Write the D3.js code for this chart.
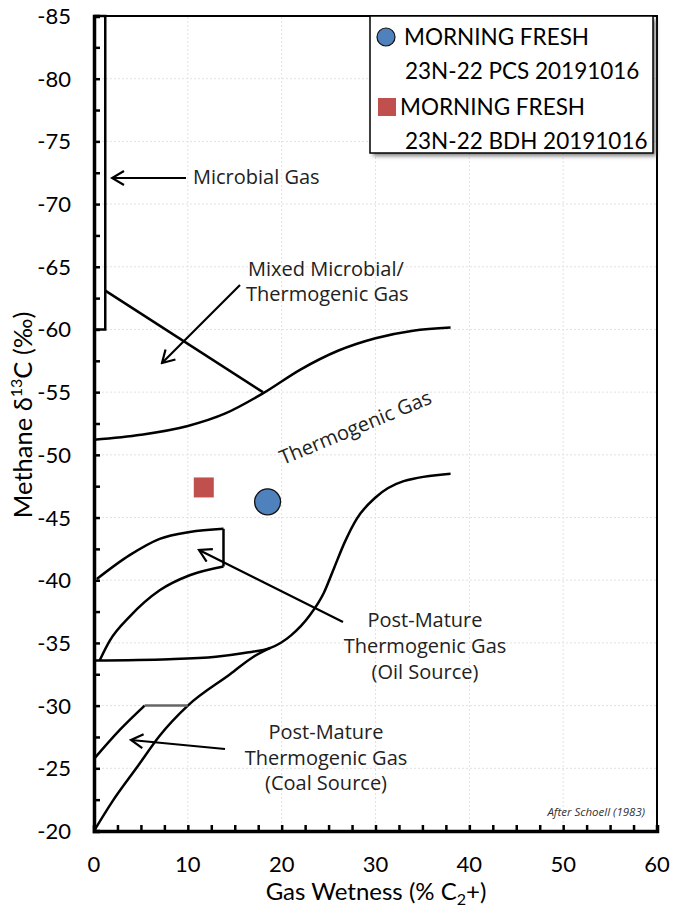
<!DOCTYPE html>
<html>
<head>
<meta charset="utf-8">
<script src="https://cdn.jsdelivr.net/npm/d3@7/dist/d3.min.js"></script>
<style>
  body { margin: 0; background: #fff; }
  svg { font-family: Lato, "Open Sans", sans-serif; }
</style>
</head>
<body>
<svg width="673" height="908"></svg>
<script>
// axis ticks
const xTicks = [0, 10, 20, 30, 40, 50, 60];
const yTicks = [-85, -80, -75, -70, -65, -60, -55, -50, -45, -40, -35, -30, -25, -20];

// Schoell (1983) boundaries, [wetness, d13C]
const microbialBox = [[0, -85], [1.2, -85], [1.2, -60], [0, -60]];
const mixedLine = [[1.2, -63.1], [18, -55]];
const thermoLower = [[0, -51.2], [5, -51.6], [10, -52.3], [14, -53.3], [18, -54.9], [22, -56.8], [26, -58.3], [30, -59.3], [34, -59.9], [38, -60.15]];
const oilUpper = [[0.3, -40.1], [3.8, -42], [7, -43.3], [10.2, -43.85], [13.8, -44.1]];
const oilRight = [[13.8, -44.1], [13.8, -41.1]];
const oilLower = [[0.6, -33.6], [1.7, -35.2], [3.8, -37.1], [7, -39.2], [10.2, -40.4], [13.8, -41.1]];
const oilBase = [[0, -33.6], [8, -33.7], [13, -33.9], [16, -34.2], [18.8, -34.6], [21, -35.6], [23, -37.2], [24.5, -39.0], [25.6, -41], [26.7, -43], [28, -44.9], [30, -46.6], [33, -47.9], [38, -48.5]];
const coalCurve = [[0, -20], [2, -22.4], [4.6, -25.1], [7, -27.6], [10, -30], [14.5, -32.5], [17, -33.9], [18.8, -34.6]];
const coalUpper = [[0, -25.75], [2.8, -28.1], [5.4, -30]];
const coalFlat = [[5.4, -30], [10, -30]];

// samples
const samples = [
  { name: ["MORNING FRESH", "23N-22 PCS 20191016"], wet: 18.5, d13c: -46.25, shape: "circle", color: "#4F81BD" },
  { name: ["MORNING FRESH", "23N-22 BDH 20191016"], wet: 11.7, d13c: -47.4, shape: "square", color: "#C0504D" }
];

const svg = d3.select("svg");
const W = 673, H = 908;
const m = { left: 94, right: 16, top: 16, bottom: 77 };

const x = d3.scaleLinear().domain([0, 60]).range([m.left, W - m.right]);
const y = d3.scaleLinear().domain([-20, -85]).range([H - m.bottom, m.top]);

const defs = svg.append("defs");
defs.append("filter").attr("id", "blur").attr("x", "-10%").attr("y", "-10%").attr("width", "120%").attr("height", "120%")
  .append("feGaussianBlur").attr("stdDeviation", 2);

// grid
const g = svg.append("g");
g.selectAll(".gx").data(xTicks.slice(1, -1)).enter().append("line")
  .attr("x1", d => x(d)).attr("x2", d => x(d))
  .attr("y1", y(-20)).attr("y2", y(-85))
  .attr("stroke", "#e2e2e2").attr("stroke-dasharray", "2,2");
g.selectAll(".gy").data(yTicks.slice(1, -1)).enter().append("line")
  .attr("x1", x(0)).attr("x2", x(60))
  .attr("y1", d => y(d)).attr("y2", d => y(d))
  .attr("stroke", "#e2e2e2").attr("stroke-dasharray", "2,2");

// frame top/right
svg.append("path")
  .attr("d", `M${x(0)},${y(-85)}H${x(60)}V${y(-20)}`)
  .attr("fill", "none").attr("stroke", "#000").attr("stroke-width", 2);

// axes with inward ticks
const axX = d3.axisBottom(x).tickValues(d3.range(0, 60.1, 2.5)).tickSize(-6).tickFormat("");
const axY = d3.axisLeft(y).tickValues(d3.range(-85, -19.9, 2.5)).tickSize(-6).tickFormat("");
const gx = svg.append("g").attr("transform", `translate(0,${y(-20)})`).call(axX);
const gy = svg.append("g").attr("transform", `translate(${x(0)},0)`).call(axY);
[gx, gy].forEach(a => {
  a.select(".domain").attr("stroke-width", 3.5).attr("stroke", "#000");
  a.selectAll(".tick line").attr("stroke-width", 2.5).attr("stroke", "#000");
});

// tick labels
svg.selectAll(".xl").data(xTicks).enter().append("text")
  .attr("x", d => x(d)).attr("y", 872)
  .attr("text-anchor", "middle").attr("font-size", 22).text(d => d);
svg.selectAll(".yl").data(yTicks).enter().append("text")
  .attr("x", 71).attr("y", d => y(d) + 8)
  .attr("text-anchor", "end").attr("font-size", 22).text(d => d);

// axis titles
const xt = svg.append("text").attr("x", 376).attr("y", 900)
  .attr("text-anchor", "middle").attr("font-size", 24);
xt.append("tspan").text("Gas Wetness (% C");
xt.append("tspan").attr("font-size", 16).attr("dy", 5).text("2");
xt.append("tspan").attr("dy", -5).text("+)");

const yt = svg.append("text").attr("transform", "translate(32,415) rotate(-90)")
  .attr("text-anchor", "middle").attr("font-size", 25.5);
yt.append("tspan").text("Methane  δ");
yt.append("tspan").attr("font-size", 16).attr("dy", -10).text("13");
yt.append("tspan").attr("dy", 10).text("C (‰)");

// boundary lines
const line = d3.line().x(d => x(d[0])).y(d => y(d[1]));
const curve = d3.line().x(d => x(d[0])).y(d => y(d[1])).curve(d3.curveMonotoneX);
const lines = svg.append("g").attr("fill", "none").attr("stroke", "#000").attr("stroke-width", 2.5);
lines.append("path").attr("d", line(microbialBox));
lines.append("path").attr("d", line(mixedLine));
lines.append("path").attr("d", curve(thermoLower));
lines.append("path").attr("d", curve(oilUpper));
lines.append("path").attr("d", line(oilRight));
lines.append("path").attr("d", curve(oilLower));
lines.append("path").attr("d", curve(oilBase));
lines.append("path").attr("d", curve(coalCurve));
lines.append("path").attr("d", curve(coalUpper));
lines.append("path").attr("d", line(coalFlat)).attr("stroke", "#666");

// arrows (tail -> head)
defs.append("marker")
  .attr("id", "head").attr("viewBox", "-14 -8 16 16")
  .attr("refX", 0).attr("refY", 0)
  .attr("markerWidth", 16).attr("markerHeight", 16)
  .attr("markerUnits", "userSpaceOnUse")
  .attr("orient", "auto")
  .append("path").attr("d", "M-12,-7L0,0L-12,7")
  .attr("fill", "none").attr("stroke", "#000").attr("stroke-width", 2.2);

const arrows = [
  [[186, 178], [112, 178]],
  [[240, 285], [162, 363]],
  [[343, 622], [199, 550]],
  [[225, 749], [131, 740]]
];
svg.selectAll(".arr").data(arrows).enter().append("path")
  .attr("d", d => `M${d[0][0]},${d[0][1]}L${d[1][0]},${d[1][1]}`)
  .attr("stroke", "#000").attr("stroke-width", 2.2).attr("fill", "none")
  .attr("marker-end", "url(#head)");

// annotations
const ann = svg.append("g").attr("font-family", "'Open Sans', sans-serif").attr("font-size", 20).attr("fill", "#222");
ann.append("text").attr("x", 193).attr("y", 184).text("Microbial Gas");
ann.append("text").attr("x", 248).attr("y", 276).text("Mixed Microbial/");
ann.append("text").attr("x", 246).attr("y", 301).text("Thermogenic Gas");
ann.append("text").attr("transform", "translate(358,434) rotate(-22.5)")
  .attr("text-anchor", "middle").text("Thermogenic Gas");
[["Post-Mature", 627], ["Thermogenic Gas", 653], ["(Oil Source)", 679]].forEach(t =>
  ann.append("text").attr("x", 425).attr("y", t[1]).attr("text-anchor", "middle").text(t[0]));
[["Post-Mature", 739], ["Thermogenic Gas", 765], ["(Coal Source)", 790]].forEach(t =>
  ann.append("text").attr("x", 326).attr("y", t[1]).attr("text-anchor", "middle").text(t[0]));
svg.append("text").attr("x", 645).attr("y", 816).attr("text-anchor", "end")
  .attr("font-family", "'Open Sans', sans-serif").attr("font-style", "italic")
  .attr("font-size", 11.5).attr("fill", "#333").text("After Schoell (1983)");

// sample points
svg.selectAll(".pt-c").data(samples.filter(d => d.shape == "circle")).enter().append("circle")
  .attr("cx", d => x(d.wet)).attr("cy", d => y(d.d13c)).attr("r", 13)
  .attr("fill", d => d.color).attr("stroke", "#111").attr("stroke-width", 1.3);
svg.selectAll(".pt-s").data(samples.filter(d => d.shape == "square")).enter().append("rect")
  .attr("x", d => x(d.wet) - 10).attr("y", d => y(d.d13c) - 10)
  .attr("width", 20).attr("height", 20).attr("fill", d => d.color);

// legend
const lg = svg.append("g");
lg.append("rect").attr("x", 373).attr("y", 19).attr("width", 283).attr("height", 137)
  .attr("fill", "#444").attr("opacity", 0.7).attr("filter", "url(#blur)");
lg.append("rect").attr("x", 370).attr("y", 16).attr("width", 283).attr("height", 137)
  .attr("fill", "#fff").attr("stroke", "#000").attr("stroke-width", 1.5);
samples.forEach((d, i) => {
  const cy = 37 + i * 70;
  if (d.shape == "circle") {
    lg.append("circle").attr("cx", 386).attr("cy", cy).attr("r", 9)
      .attr("fill", d.color).attr("stroke", "#111").attr("stroke-width", 1.2);
  } else {
    lg.append("rect").attr("x", 378).attr("y", cy - 9).attr("width", 18).attr("height", 18).attr("fill", d.color);
  }
  lg.append("text").attr("x", d.shape == "circle" ? 404 : 400).attr("y", cy + 8).attr("font-size", 22.5).text(d.name[0]);
  lg.append("text").attr("x", 405).attr("y", cy + 42).attr("font-size", 22.5).text(d.name[1]);
});
</script>
</body>
</html>
